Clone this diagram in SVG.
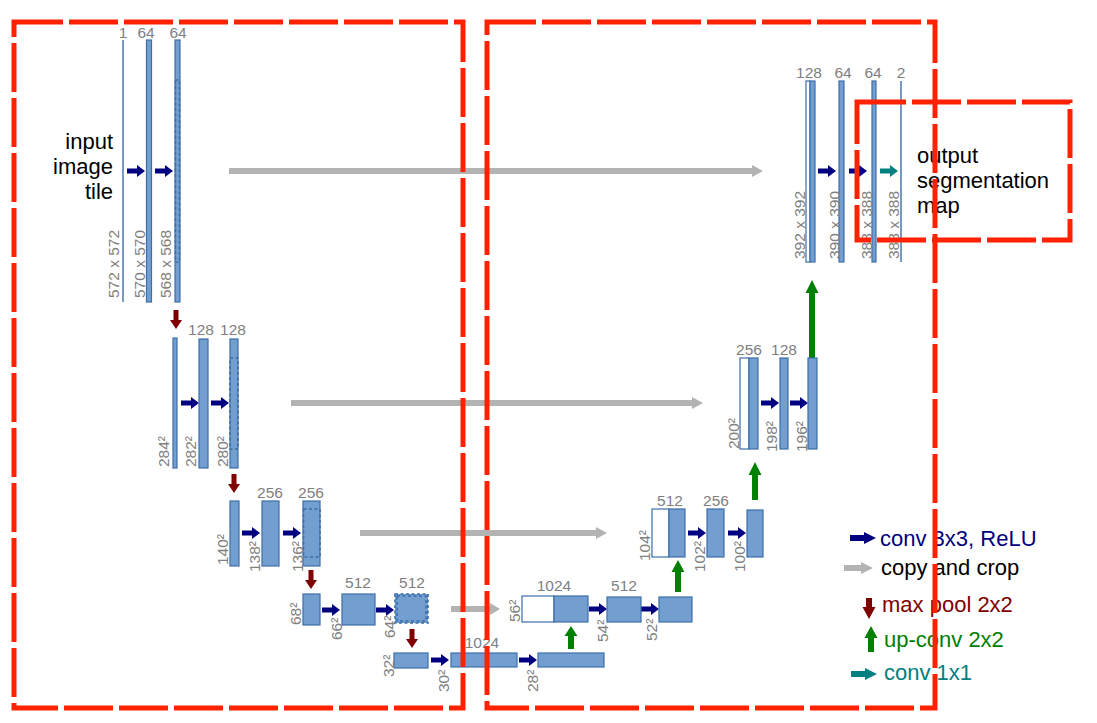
<svg xmlns="http://www.w3.org/2000/svg" xmlns:xlink="http://www.w3.org/1999/xlink" width="1097" height="723" viewBox="0 0 1097 723">
<style>
.bar{fill:#729fcf;stroke:#3c6ea8;stroke-width:1.2}
.wbar{fill:#ffffff;stroke:#3c6ea8;stroke-width:1.2}
.dot{fill:none;stroke:#3c6ea8;stroke-width:1.6;stroke-dasharray:3 2.5}
.thin{stroke:#3c6ea8;stroke-width:1.4}
.lbl{font-family:"Liberation Sans",Arial,sans-serif;font-size:15.5px;fill:#808080}
.num{font-family:"Liberation Sans",Arial,sans-serif;font-size:15.5px;fill:#808080;text-anchor:middle}
.big{font-family:"Liberation Sans",Arial,sans-serif;font-size:22px;fill:#000000}
.leg{font-family:"Liberation Sans",Arial,sans-serif;font-size:22px}
.copy{fill:#b3b3b3}
.upc{fill:#008000}
.red{fill:none;stroke:#ff2200;stroke-width:5;stroke-dasharray:49 6}
</style>
<defs>
<path id="conv" d="M0,-2.5 H10 V-6 L18,0 L10,6 V2.5 H0 Z" fill="#000080"/>
<path id="conv1" d="M0,-2.5 H10 V-6 L18,0 L10,6 V2.5 H0 Z" fill="#008080"/>
<path id="pool" d="M-2.5,0 V10 H-6 L0,19 L6,10 H2.5 V0 Z" fill="#800000"/>
<path id="up" d="M-3,0 V-13 H-6.5 L0,-23 L6.5,-13 H3 V0 Z" fill="#008000"/>
</defs>

<g id="connectors">
<path class="copy" d="M229,168 H752 V165 L763,171 L752,177 V174 H229 Z"/>
<path class="copy" d="M291,400 H692 V397 L703,403 L692,409 V406 H291 Z"/>
<path class="copy" d="M360,530 H596 V527 L607,533 L596,539 V536 H360 Z"/>
<path class="copy" d="M451,606 H490 V603 L500,609 L490,615 V612 H451 Z"/>
<use href="#conv" x="127" y="171"/>
<use href="#conv" x="155" y="171"/>
<use href="#pool" x="176" y="310"/>
<use href="#conv" x="181" y="403"/>
<use href="#conv" x="211" y="403"/>
<use href="#pool" x="234" y="474"/>
<use href="#conv" x="242" y="533"/>
<use href="#conv" x="283" y="533"/>
<use href="#pool" x="311" y="570"/>
<use href="#conv" x="322" y="610"/>
<use href="#conv" x="376" y="610"/>
<use href="#pool" x="412" y="629"/>
<use href="#conv" x="431" y="660"/>
<use href="#conv" x="519" y="660"/>
<use href="#up" x="571" y="649"/>
<use href="#conv" x="589" y="609"/>
<use href="#conv" x="641" y="609"/>
<path class="upc" d="M675,592 V572 H671.5 L678,560 L684.5,572 H681 V592 Z"/>
<use href="#conv" x="688" y="533"/>
<use href="#conv" x="728" y="533"/>
<path class="upc" d="M752,500 V475 H748.5 L755,462 L761.5,475 H758 V500 Z"/>
<use href="#conv" x="761" y="403"/>
<use href="#conv" x="790" y="403"/>
<path class="upc" d="M809,358 V293 H805.5 L812,280 L818.5,293 H815 V358 Z"/>
<use href="#conv" x="818" y="171"/>
<use href="#conv" x="849" y="171"/>
<use href="#conv1" x="880" y="171"/>
</g>

<g id="level1-down">
<line class="thin" x1="123" y1="40" x2="123" y2="302"/>
<rect class="bar" x="146.5" y="40" width="5" height="262"/>
<rect class="bar" x="175" y="40" width="5" height="262"/>
<rect class="dot" x="175.5" y="80" width="4" height="182"/>
<text class="num" x="123" y="38">1</text>
<text class="num" x="146" y="38">64</text>
<text class="num" x="178" y="38">64</text>
<text class="lbl" transform="translate(119,298) rotate(-90)">572 x 572</text>
<text class="lbl" transform="translate(145,298) rotate(-90)">570 x 570</text>
<text class="lbl" transform="translate(171,298) rotate(-90)">568 x 568</text>
<text class="big" text-anchor="end"><tspan x="113" y="149">input</tspan><tspan x="113" y="174">image</tspan><tspan x="113" y="199">tile</tspan></text>
</g>

<g id="level2-down">
<rect class="bar" x="173" y="338" width="4" height="130"/>
<rect class="bar" x="199" y="339" width="9" height="129"/>
<rect class="bar" x="230" y="339" width="8" height="129"/>
<rect class="dot" x="230" y="358" width="8" height="91"/>
<text class="num" x="201" y="335">128</text>
<text class="num" x="233" y="335">128</text>
<text class="lbl" transform="translate(169,467) rotate(-90)">284²</text>
<text class="lbl" transform="translate(196,467) rotate(-90)">282²</text>
<text class="lbl" transform="translate(228,467) rotate(-90)">280²</text>
</g>

<g id="level3-down">
<rect class="bar" x="230" y="501" width="9" height="65"/>
<rect class="bar" x="262" y="501" width="17" height="65"/>
<rect class="bar" x="303" y="501" width="17" height="65"/>
<rect class="dot" x="303.5" y="509" width="16.5" height="48"/>
<text class="num" x="270" y="498">256</text>
<text class="num" x="311" y="498">256</text>
<text class="lbl" transform="translate(228,565) rotate(-90)">140²</text>
<text class="lbl" transform="translate(260,572) rotate(-90)">138²</text>
<text class="lbl" transform="translate(303,572) rotate(-90)">136²</text>
</g>

<g id="level4-down">
<rect class="bar" x="303" y="594" width="17" height="31"/>
<rect class="bar" x="342" y="594" width="33" height="31"/>
<rect class="bar" x="395" y="594" width="33" height="29" style="stroke-dasharray:3 2.5;stroke-width:1.6"/>
<rect class="dot" x="397" y="596" width="29" height="25"/>
<text class="num" x="358" y="588">512</text>
<text class="num" x="412" y="588">512</text>
<text class="lbl" transform="translate(301,625) rotate(-90)">68²</text>
<text class="lbl" transform="translate(342,640) rotate(-90)">66²</text>
<text class="lbl" transform="translate(395,638) rotate(-90)">64²</text>
</g>

<g id="level5-bottom">
<rect class="bar" x="394" y="653" width="34" height="15"/>
<rect class="bar" x="451" y="653" width="66" height="14"/>
<rect class="bar" x="538" y="653" width="66" height="14"/>
<text class="num" x="482" y="648">1024</text>
<text class="lbl" transform="translate(394,677) rotate(-90)">32²</text>
<text class="lbl" transform="translate(449,692) rotate(-90)">30²</text>
<text class="lbl" transform="translate(538,692) rotate(-90)">28²</text>
</g>

<g id="level4-up">
<rect class="wbar" x="522" y="596" width="32" height="26"/>
<rect class="bar" x="554" y="596" width="34" height="26"/>
<rect class="bar" x="607" y="597" width="34" height="25"/>
<rect class="bar" x="659" y="597" width="33" height="25"/>
<text class="num" x="554" y="591">1024</text>
<text class="num" x="624" y="591">512</text>
<text class="lbl" transform="translate(520,622) rotate(-90)">56²</text>
<text class="lbl" transform="translate(608,642) rotate(-90)">54²</text>
<text class="lbl" transform="translate(657,641) rotate(-90)">52²</text>
</g>

<g id="level3-up">
<rect class="wbar" x="652" y="509" width="17" height="48"/>
<rect class="bar" x="669" y="509" width="16" height="48"/>
<rect class="bar" x="707" y="509" width="17" height="48"/>
<rect class="bar" x="747" y="510" width="16" height="47"/>
<text class="num" x="670" y="506">512</text>
<text class="num" x="716" y="506">256</text>
<text class="lbl" transform="translate(650,561) rotate(-90)">104²</text>
<text class="lbl" transform="translate(705,572) rotate(-90)">102²</text>
<text class="lbl" transform="translate(745,572) rotate(-90)">100²</text>
</g>

<g id="level2-up">
<rect class="wbar" x="740" y="358" width="9" height="91"/>
<rect class="bar" x="749" y="358" width="9" height="91"/>
<rect class="bar" x="780" y="358" width="8" height="91"/>
<rect class="bar" x="808" y="358" width="9" height="91"/>
<text class="num" x="749" y="355">256</text>
<text class="num" x="784" y="355">128</text>
<text class="lbl" transform="translate(739,449) rotate(-90)">200²</text>
<text class="lbl" transform="translate(777,452) rotate(-90)">198²</text>
<text class="lbl" transform="translate(807,452) rotate(-90)">196²</text>
</g>

<g id="level1-up">
<rect class="wbar" x="806" y="81" width="4" height="181"/>
<rect class="bar" x="810" y="81" width="5" height="181"/>
<rect class="bar" x="839" y="81" width="5" height="181"/>
<rect class="bar" x="872" y="81" width="4" height="181"/>
<line class="thin" x1="901" y1="81" x2="901" y2="262"/>
<text class="num" x="809" y="78">128</text>
<text class="num" x="843" y="78">64</text>
<text class="num" x="873" y="78">64</text>
<text class="num" x="901" y="78">2</text>
<text class="lbl" transform="translate(805,259) rotate(-90)">392 x 392</text>
<text class="lbl" transform="translate(840,259) rotate(-90)">390 x 390</text>
<text class="lbl" transform="translate(872,259) rotate(-90)">388 x 388</text>
<text class="lbl" transform="translate(899,259) rotate(-90)">388 x 388</text>
<text class="big"><tspan x="917" y="163">output</tspan><tspan x="917" y="188">segmentation</tspan><tspan x="917" y="213">map</tspan></text>
</g>

<g id="legend">
<path d="M850,535 H864 V532 L876,538 L864,544 V541 H850 Z" fill="#000080"/>
<text class="leg" x="880" y="546" fill="#000080">conv 3x3, ReLU</text>
<path class="copy" d="M844,565 H861 V562 L873,568 L861,574 V571 H844 Z"/>
<text class="leg" x="881" y="575" fill="#000000">copy and crop</text>
<path d="M866,598 V607 H862.5 L869,619 L875.5,607 H872 V598 Z" fill="#800000"/>
<text class="leg" x="882" y="612" fill="#800000">max pool 2x2</text>
<path d="M868,652 V638 H864.5 L871,626 L877.5,638 H874 V652 Z" fill="#008000"/>
<text class="leg" x="884" y="647" fill="#008000">up-conv 2x2</text>
<path d="M851,671 H865 V668 L877,674 L865,680 V677 H851 Z" fill="#008080"/>
<text class="leg" x="884" y="680" fill="#008080">conv 1x1</text>
</g>

<g id="regions">
<rect class="red" x="14" y="22" width="449" height="686"/>
<rect class="red" x="487" y="22" width="448" height="686"/>
<rect class="red" x="857" y="102" width="213" height="138"/>
</g>
</svg>
